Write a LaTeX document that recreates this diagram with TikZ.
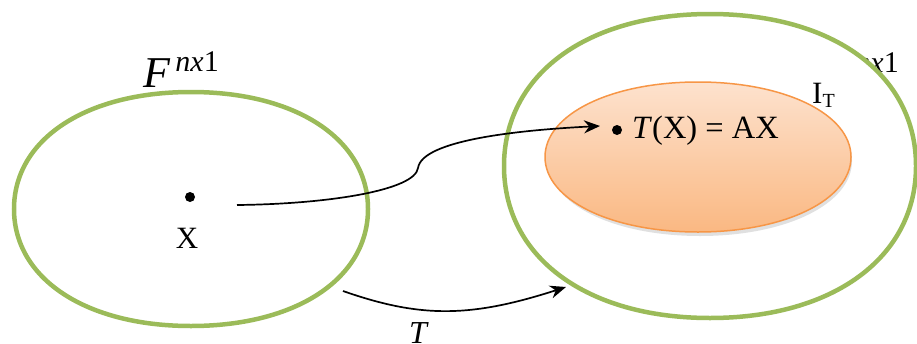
\documentclass[tikz,border=0pt]{standalone}
\usepackage{fontspec}
\setmainfont{Liberation Serif}
\usetikzlibrary{arrows.meta}
\definecolor{setgreen}{RGB}{155,187,89}
\definecolor{imgorange}{RGB}{247,150,70}
\definecolor{imgtop}{RGB}{253,226,206}
\definecolor{imgbot}{RGB}{250,184,130}
% #1 style, #2 cx, #3 cy, #4 rx, #5 ry, #6 control factor
\newcommand\roundset[6]{%
  \path[#1] ({#2+#4},{#3})
    .. controls ({#2+#4},{#3+#6*#5}) and ({#2+#6*#4},{#3+#5}) .. ({#2},{#3+#5})
    .. controls ({#2-#6*#4},{#3+#5}) and ({#2-#4},{#3+#6*#5}) .. ({#2-#4},{#3})
    .. controls ({#2-#4},{#3-#6*#5}) and ({#2-#6*#4},{#3-#5}) .. ({#2},{#3-#5})
    .. controls ({#2+#6*#4},{#3-#5}) and ({#2+#4},{#3-#6*#5}) .. cycle;}
\begin{document}
\begin{tikzpicture}[x=1pt,y=-1pt,
  setline/.style={draw=setgreen,line width=4.5pt},
  mapline/.style={draw=black,line width=1.7pt,-{Stealth[length=16pt,width=13pt]}},
  lbl/.style={inner sep=0pt,font=\fontsize{31}{34}\selectfont}]
\useasboundingbox (0,0) rectangle (917,343);
% left set
\node[lbl,anchor=base west] (Fl) at (143,87) {\fontsize{44}{48}\selectfont\textit{F}\raisebox{16pt}{\fontsize{30}{34}\selectfont\,\textit{nx}1}};
\roundset{setline}{191}{209}{177}{117}{0.595}
% right set label (only its end shows past the set)
\node[lbl,anchor=base east,font=\fontsize{30}{34}\selectfont] (Fr) at (899,72) {\textit{nx}1};
\roundset{setline,fill=white}{710}{166}{206}{152}{0.6}
% image
\roundset{fill=black!22,opacity=0.55}{700}{161}{152}{75}{0.57}
\roundset{draw=imgorange,line width=1.5pt,top color=imgtop,bottom color=imgbot}{698}{157}{153}{75}{0.57}
\node[lbl,anchor=base west] (IT) at (812,103) {I\textsubscript{\fontsize{20}{22}\selectfont T}};
% points
\fill (190,197) circle (5);
\node[lbl] (X) at (187,238) {X};
\coordinate (xs) at (237,205);
\fill (617,130) circle (5);
\node[lbl,anchor=west,font=\fontsize{32.5}{36}\selectfont] (TX) at (632,131) {\textit{T}(X) = AX};
\coordinate (te) at (600,126);
\draw[mapline] (xs) .. controls (330,204) and (415,190) .. (418,168)
  .. controls (422,140) and (520,130) .. (te);
% T map
\coordinate (ts) at (343,291);
\coordinate (tend) at (566,287);
\draw[mapline] (ts) .. controls (420,318) and (470,318) .. (tend);
\node[lbl,anchor=north,font=\fontsize{32}{36}\selectfont\itshape] (T) at (418,322) {T};
\end{tikzpicture}
\end{document}
